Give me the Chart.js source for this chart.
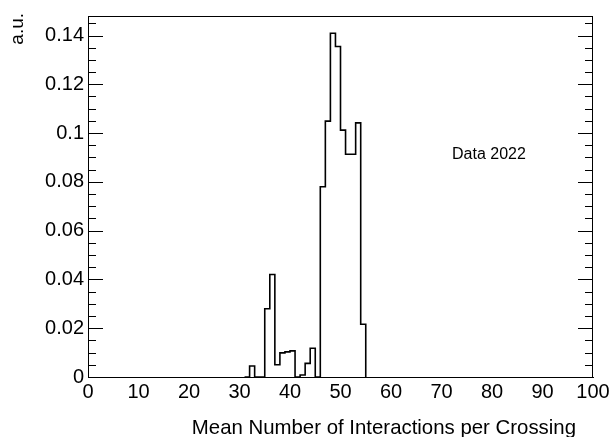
<!DOCTYPE html>
<html>
<head>
<meta charset="utf-8">
<script src="https://cdn.jsdelivr.net/npm/chart.js@4.4.1/dist/chart.umd.min.js"></script>
<style>
    html, body { margin: 0; padding: 0; background: #ffffff; }
    #wrap { width: 613px; height: 437px; }
</style>
</head>
<body>
<div id="wrap"><canvas id="histChart" width="613" height="437"></canvas></div>
<script>
// Histogram bins (low edge of each bin, value of that bin); last entry closes the histogram
const binLowEdges = [31, 32, 33, 34, 35, 36, 37, 38, 39, 40, 41, 42, 43, 44, 45, 46, 47, 48, 49, 50, 51, 52, 53, 54, 55];
const binValues = [0, 0.0045, 0, 0, 0.028, 0.042, 0.005, 0.0099, 0.0103, 0.0107, 0, 0.0008, 0.0056, 0.0118, 0,
    0.078, 0.1049, 0.1409, 0.1355, 0.1012, 0.0913, 0.0913, 0.1042, 0.0216, 0];

// Axis ticks
const xTickValues = [0, 10, 20, 30, 40, 50, 60, 70, 80, 90, 100];
const xTickLabels = ['0', '10', '20', '30', '40', '50', '60', '70', '80', '90', '100'];
const yTickValues = [0, 0.02, 0.04, 0.06, 0.08, 0.1, 0.12, 0.14];
const yTickLabels = ['0', '0.02', '0.04', '0.06', '0.08', '0.1', '0.12', '0.14'];

const xTitle = 'Mean Number of Interactions per Crossing';
const yTitle = 'a.u.';
const legendText = 'Data 2022';

const FONT = 'Liberation Sans, Arial, Helvetica, sans-serif';

// Frame, inward ticks on y, and the free texts (ROOT style)
const rootFramePlugin = {
    id: 'rootFrame',
    afterDraw(chart) {
        const ctx = chart.ctx;
        const area = chart.chartArea;
        const y = chart.scales.y;

        ctx.save();
        ctx.strokeStyle = '#000000';
        ctx.lineWidth = 1;
        ctx.strokeRect(area.left + 0.5, area.top + 0.5, area.right - area.left - 1, area.bottom - area.top);

        // minor ticks every 0.005, major every 0.02
        ctx.beginPath();
        for (let i = 0; i * 0.005 <= y.max + 1e-9; i++) {
            const py = Math.round(y.getPixelForValue(i * 0.005)) + 0.5;
            const len = (i % 4 === 0) ? 15 : 8;
            ctx.moveTo(area.left, py);
            ctx.lineTo(area.left + len, py);
            ctx.moveTo(area.right, py);
            ctx.lineTo(area.right - len, py);
        }
        ctx.stroke();

        ctx.fillStyle = '#000000';

        // x axis title
        ctx.font = '20.4px ' + FONT;
        ctx.textAlign = 'right';
        ctx.textBaseline = 'alphabetic';
        ctx.fillText(xTitle, 576, 434);

        // y axis title, rotated
        ctx.save();
        ctx.translate(23, 13);
        ctx.rotate(-Math.PI / 2);
        ctx.font = '19px ' + FONT;
        ctx.textAlign = 'right';
        ctx.textBaseline = 'alphabetic';
        ctx.fillText(yTitle, 0, 0);
        ctx.restore();

        // label in the plot
        ctx.font = '16px ' + FONT;
        ctx.textAlign = 'left';
        ctx.textBaseline = 'middle';
        ctx.fillText(legendText, 452, 155);

        ctx.restore();
    }
};

const histData = binLowEdges.map((x, i) => ({ x: x, y: binValues[i] }));

const ctx = document.getElementById('histChart').getContext('2d');
new Chart(ctx, {
    type: 'line',
    data: {
        datasets: [{
            label: legendText,
            data: histData,
            borderColor: '#000000',
            borderWidth: 1.6,
            backgroundColor: 'transparent',
            fill: false,
            stepped: true,
            pointRadius: 0,
            tension: 0
        }]
    },
    options: {
        responsive: false,
        animation: false,
        layout: { padding: { top: 14, right: 20, left: 0, bottom: 0 } },
        plugins: {
            legend: { display: false },
            tooltip: { enabled: false }
        },
        scales: {
            x: {
                type: 'linear',
                min: 0,
                max: 100,
                border: { display: true, color: '#000000', width: 1 },
                grid: { display: false, drawTicks: false },
                afterBuildTicks: scale => { scale.ticks = xTickValues.map(v => ({ value: v })); },
                afterFit: scale => { scale.height = 60; },
                ticks: {
                    padding: 3,
                    color: '#000000',
                    font: { family: FONT, size: 20 },
                    maxRotation: 0,
                    autoSkip: false,
                    callback: (v, i) => xTickLabels[i]
                }
            },
            y: {
                type: 'linear',
                min: 0,
                max: 0.148,
                border: { display: true, color: '#000000', width: 1 },
                grid: { display: false, drawTicks: false },
                afterBuildTicks: scale => { scale.ticks = yTickValues.map(v => ({ value: v })); },
                afterFit: scale => { scale.width = 88; },
                ticks: {
                    padding: 4,
                    color: '#000000',
                    font: { family: FONT, size: 20 },
                    autoSkip: false,
                    callback: (v, i) => yTickLabels[i]
                }
            }
        }
    },
    plugins: [rootFramePlugin]
});
</script>
</body>
</html>
